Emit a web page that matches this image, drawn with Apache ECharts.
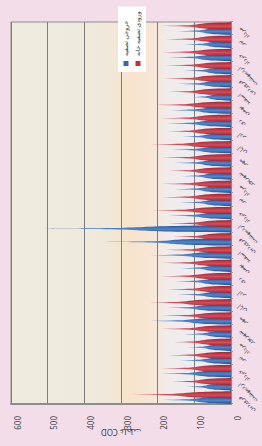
<!DOCTYPE html>
<html>
<head>
<meta charset="utf-8">
<script src="https://cdn.jsdelivr.net/npm/echarts@6/dist/echarts.min.js"></script>
<style>
  html, body {
    margin: 0;
    padding: 0;
    width: 262px;
    height: 446px;
    overflow: hidden;
    background: #f3dde9;
  }
  /* chart is drawn upright (446 x 262) and then turned a quarter left */
  #main {
    position: absolute;
    left: -92px;
    top: 92px;
    width: 446px;
    height: 262px;
    transform: rotate(-90deg);
  }
</style>
</head>
<body>
<div id="main"></div>
<script>
// sample labels, left to right on the upright chart
const categories = [
  'فروردین', 'اردیبهشت', 'خرداد', 'تیر', 'مرداد', 'شهریور', 'مهر', 'آبان', 'آذر', 'دی',
  'بهمن', 'اسفند', 'فروردین', 'اردیبهشت', 'خرداد', 'تیر', 'مرداد', 'شهریور', 'مهر', 'آبان',
  'آذر', 'دی', 'بهمن', 'اسفند', 'فروردین', 'اردیبهشت', 'خرداد', 'تیر', 'مرداد'
]

// red series
const inletValues = [
  297, 197, 211, 189, 189, 208, 208, 270, 192, 211,
  208, 197, 175, 189, 235, 208, 208, 208, 208, 243,
  211, 208, 230, 208, 203, 197, 208, 197, 208
]

// blue series
const outletValues = [
  208, 150, 211, 154, 143, 143, 243, 211, 162, 170,
  154, 243, 378, 565, 189, 154, 170, 162, 170, 181,
  162, 195, 184, 130, 162, 143, 189, 143, 162
]

const seriesNames = ['خروجی تصفیه', 'ورودی تصفیه خانه']
const axisName = 'غلظت COD'
const valueMin = 0
const valueMax = 600
const valueStep = 100

// thick body near the base, long thin tip
const coneShape = 'path://M0,100 C4,75 14,62 30,55 C44,45 48,25 50,0 C52,25 56,45 70,55 C86,62 96,75 100,100 Z'

function coneColor(dark, light) {
  return new echarts.graphic.LinearGradient(0, 0, 1, 0, [
    { offset: 0, color: dark },
    { offset: 0.45, color: light },
    { offset: 1, color: dark },
  ])
}

const chart = echarts.init(document.getElementById('main'), null, { renderer: 'svg' })

chart.setOption({
  animation: false,
  backgroundColor: '#f3dde9',
  textStyle: { fontFamily: '"Noto Sans", "DejaVu Sans", sans-serif' },
  legend: {
    orient: 'vertical',
    left: 374,
    top: 118,
    backgroundColor: '#ffffff',
    padding: [5, 5, 5, 6],
    itemGap: 6,
    itemWidth: 5,
    itemHeight: 5,
    icon: 'rect',
    textStyle: { fontSize: 6, color: '#333' },
    data: [
      { name: seriesNames[0], itemStyle: { color: '#2f68b4' } },
      { name: seriesNames[1], itemStyle: { color: '#c4303a' } },
    ],
  },
  grid: {
    left: 42,
    right: 22,
    top: 11,
    bottom: 31,
    outerBoundsMode: 'none',
    show: true,
    borderColor: '#8c8c8c',
    borderWidth: 1,
    backgroundColor: new echarts.graphic.LinearGradient(0, 0, 0, 1, [
      { offset: 0, color: '#eeecdf' },
      { offset: 0.42, color: '#efe9dc' },
      { offset: 0.55, color: '#f8e3cc' },
      { offset: 0.64, color: '#f7e6d6' },
      { offset: 0.72, color: '#f1ecec' },
      { offset: 1, color: '#e8edf5' },
    ]),
  },
  xAxis: {
    type: 'category',
    data: categories,
    offset: 5,
    axisLine: { lineStyle: { color: '#8c8c8c', width: 2 } },
    axisTick: { show: true, lineStyle: { color: '#999' }, length: 2 },
    axisLabel: { rotate: 45, fontSize: 6, color: '#444', margin: 3, interval: 0 },
  },
  yAxis: {
    type: 'value',
    min: valueMin,
    max: valueMax,
    interval: valueStep,
    name: axisName,
    nameLocation: 'middle',
    nameRotate: 90,
    nameGap: 24,
    nameMoveOverlap: false,
    nameTextStyle: { fontSize: 8, color: '#444' },
    axisLine: { show: true, lineStyle: { color: '#8c8c8c', width: 2 } },
    axisTick: { show: false },
    splitLine: { lineStyle: { color: '#7c7c7c', width: 1 } },
    axisLabel: { fontSize: 8, color: '#444', margin: 12, verticalAlign: 'top', lineHeight: 12 },
  },
  series: [
    {
      name: seriesNames[0],
      type: 'pictorialBar',
      data: outletValues,
      symbol: coneShape,
      symbolSize: ['100%', '100%'],
      barWidth: 7,
      barGap: '-25%',
      itemStyle: { color: coneColor('#1f4f92', '#4f86cf') },
    },
    {
      name: seriesNames[1],
      type: 'pictorialBar',
      data: inletValues,
      symbol: coneShape,
      symbolSize: ['100%', '100%'],
      barWidth: 7,
      barGap: '-25%',
      itemStyle: { color: coneColor('#a0232c', '#d94b56') },
    },
  ],
})
</script>
</body>
</html>
